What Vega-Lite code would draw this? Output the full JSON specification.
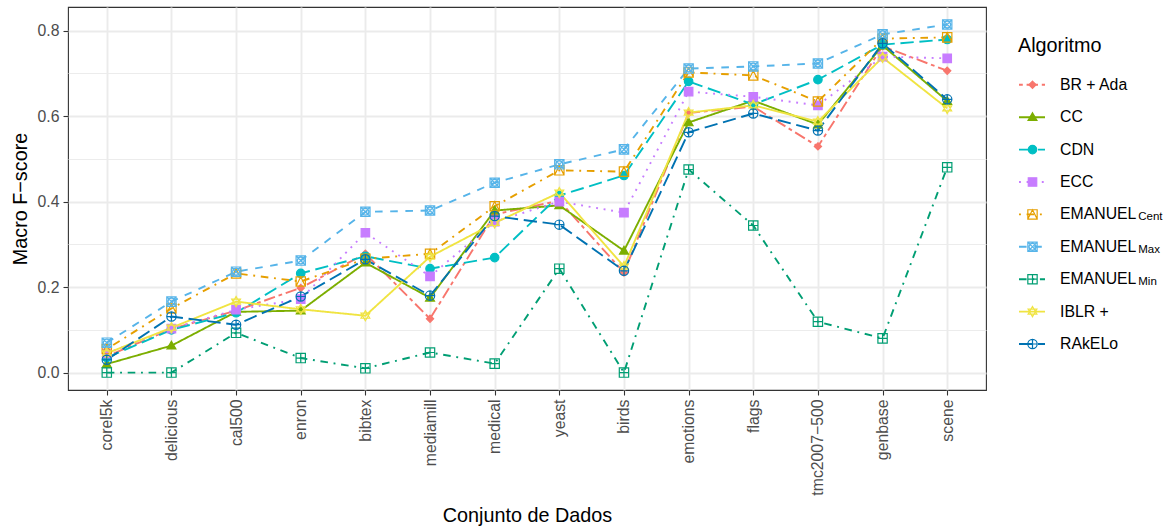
{
  "$schema": "https://vega.github.io/schema/vega-lite/v6.json",
  "width": 918,
  "height": 383,
  "autosize": {"type": "none"},
  "padding": {"left": 68, "top": 7, "right": 187, "bottom": 140},
  "background": "white",
  "config": {
    "font": "Liberation Sans",
    "view": {"stroke": "#333333", "strokeWidth": 1.1},
    "axis": {
      "domain": false,
      "grid": true,
      "gridColor": "#EBEBEB",
      "gridWidth": 1.9,
      "tickColor": "#333333",
      "tickWidth": 1.1,
      "tickSize": 5,
      "labelColor": "#4D4D4D",
      "labelFont": "Liberation Sans",
      "labelFontSize": 15.8,
      "labelPadding": 4,
      "titleColor": "#000000",
      "titleFont": "Liberation Sans",
      "titleFontSize": 19.8,
      "titleFontWeight": "normal"
    },
    "legend": {"padding": 0}
  },
  "data": {
    "values": [
      {"dataset": "corel5k", "alg": "BR + Ada", "f": 0.038},
      {"dataset": "delicious", "alg": "BR + Ada", "f": 0.102},
      {"dataset": "cal500", "alg": "BR + Ada", "f": 0.145},
      {"dataset": "enron", "alg": "BR + Ada", "f": 0.198},
      {"dataset": "bibtex", "alg": "BR + Ada", "f": 0.278},
      {"dataset": "mediamill", "alg": "BR + Ada", "f": 0.126},
      {"dataset": "medical", "alg": "BR + Ada", "f": 0.370},
      {"dataset": "yeast", "alg": "BR + Ada", "f": 0.402},
      {"dataset": "birds", "alg": "BR + Ada", "f": 0.234},
      {"dataset": "emotions", "alg": "BR + Ada", "f": 0.607},
      {"dataset": "flags", "alg": "BR + Ada", "f": 0.622},
      {"dataset": "tmc2007−500", "alg": "BR + Ada", "f": 0.529},
      {"dataset": "genbase", "alg": "BR + Ada", "f": 0.763},
      {"dataset": "scene", "alg": "BR + Ada", "f": 0.706},

      {"dataset": "corel5k", "alg": "CC", "f": 0.020},
      {"dataset": "delicious", "alg": "CC", "f": 0.063},
      {"dataset": "cal500", "alg": "CC", "f": 0.142},
      {"dataset": "enron", "alg": "CC", "f": 0.145},
      {"dataset": "bibtex", "alg": "CC", "f": 0.257},
      {"dataset": "mediamill", "alg": "CC", "f": 0.175},
      {"dataset": "medical", "alg": "CC", "f": 0.379},
      {"dataset": "yeast", "alg": "CC", "f": 0.391},
      {"dataset": "birds", "alg": "CC", "f": 0.285},
      {"dataset": "emotions", "alg": "CC", "f": 0.585},
      {"dataset": "flags", "alg": "CC", "f": 0.636},
      {"dataset": "tmc2007−500", "alg": "CC", "f": 0.580},
      {"dataset": "genbase", "alg": "CC", "f": 0.765},
      {"dataset": "scene", "alg": "CC", "f": 0.635},

      {"dataset": "corel5k", "alg": "CDN", "f": 0.035},
      {"dataset": "delicious", "alg": "CDN", "f": 0.100},
      {"dataset": "cal500", "alg": "CDN", "f": 0.140},
      {"dataset": "enron", "alg": "CDN", "f": 0.232},
      {"dataset": "bibtex", "alg": "CDN", "f": 0.272},
      {"dataset": "mediamill", "alg": "CDN", "f": 0.243},
      {"dataset": "medical", "alg": "CDN", "f": 0.269},
      {"dataset": "yeast", "alg": "CDN", "f": 0.414},
      {"dataset": "birds", "alg": "CDN", "f": 0.461},
      {"dataset": "emotions", "alg": "CDN", "f": 0.681},
      {"dataset": "flags", "alg": "CDN", "f": 0.627},
      {"dataset": "tmc2007−500", "alg": "CDN", "f": 0.685},
      {"dataset": "genbase", "alg": "CDN", "f": 0.767},
      {"dataset": "scene", "alg": "CDN", "f": 0.779},

      {"dataset": "corel5k", "alg": "ECC", "f": 0.045},
      {"dataset": "delicious", "alg": "ECC", "f": 0.103},
      {"dataset": "cal500", "alg": "ECC", "f": 0.147},
      {"dataset": "enron", "alg": "ECC", "f": 0.172},
      {"dataset": "bibtex", "alg": "ECC", "f": 0.327},
      {"dataset": "mediamill", "alg": "ECC", "f": 0.225},
      {"dataset": "medical", "alg": "ECC", "f": 0.353},
      {"dataset": "yeast", "alg": "ECC", "f": 0.400},
      {"dataset": "birds", "alg": "ECC", "f": 0.374},
      {"dataset": "emotions", "alg": "ECC", "f": 0.657},
      {"dataset": "flags", "alg": "ECC", "f": 0.645},
      {"dataset": "tmc2007−500", "alg": "ECC", "f": 0.625},
      {"dataset": "genbase", "alg": "ECC", "f": 0.739},
      {"dataset": "scene", "alg": "ECC", "f": 0.735},

      {"dataset": "corel5k", "alg": "EMANUEL_Cent", "f": 0.055},
      {"dataset": "delicious", "alg": "EMANUEL_Cent", "f": 0.150},
      {"dataset": "cal500", "alg": "EMANUEL_Cent", "f": 0.232},
      {"dataset": "enron", "alg": "EMANUEL_Cent", "f": 0.213},
      {"dataset": "bibtex", "alg": "EMANUEL_Cent", "f": 0.266},
      {"dataset": "mediamill", "alg": "EMANUEL_Cent", "f": 0.278},
      {"dataset": "medical", "alg": "EMANUEL_Cent", "f": 0.389},
      {"dataset": "yeast", "alg": "EMANUEL_Cent", "f": 0.473},
      {"dataset": "birds", "alg": "EMANUEL_Cent", "f": 0.470},
      {"dataset": "emotions", "alg": "EMANUEL_Cent", "f": 0.702},
      {"dataset": "flags", "alg": "EMANUEL_Cent", "f": 0.695},
      {"dataset": "tmc2007−500", "alg": "EMANUEL_Cent", "f": 0.634},
      {"dataset": "genbase", "alg": "EMANUEL_Cent", "f": 0.781},
      {"dataset": "scene", "alg": "EMANUEL_Cent", "f": 0.784},

      {"dataset": "corel5k", "alg": "EMANUEL_Max", "f": 0.070},
      {"dataset": "delicious", "alg": "EMANUEL_Max", "f": 0.166},
      {"dataset": "cal500", "alg": "EMANUEL_Max", "f": 0.236},
      {"dataset": "enron", "alg": "EMANUEL_Max", "f": 0.262},
      {"dataset": "bibtex", "alg": "EMANUEL_Max", "f": 0.376},
      {"dataset": "mediamill", "alg": "EMANUEL_Max", "f": 0.379},
      {"dataset": "medical", "alg": "EMANUEL_Max", "f": 0.444},
      {"dataset": "yeast", "alg": "EMANUEL_Max", "f": 0.487},
      {"dataset": "birds", "alg": "EMANUEL_Max", "f": 0.522},
      {"dataset": "emotions", "alg": "EMANUEL_Max", "f": 0.711},
      {"dataset": "flags", "alg": "EMANUEL_Max", "f": 0.716},
      {"dataset": "tmc2007−500", "alg": "EMANUEL_Max", "f": 0.723},
      {"dataset": "genbase", "alg": "EMANUEL_Max", "f": 0.791},
      {"dataset": "scene", "alg": "EMANUEL_Max", "f": 0.814},

      {"dataset": "corel5k", "alg": "EMANUEL_Min", "f": 0.000},
      {"dataset": "delicious", "alg": "EMANUEL_Min", "f": 0.000},
      {"dataset": "cal500", "alg": "EMANUEL_Min", "f": 0.093},
      {"dataset": "enron", "alg": "EMANUEL_Min", "f": 0.034},
      {"dataset": "bibtex", "alg": "EMANUEL_Min", "f": 0.010},
      {"dataset": "mediamill", "alg": "EMANUEL_Min", "f": 0.047},
      {"dataset": "medical", "alg": "EMANUEL_Min", "f": 0.021},
      {"dataset": "yeast", "alg": "EMANUEL_Min", "f": 0.243},
      {"dataset": "birds", "alg": "EMANUEL_Min", "f": 0.000},
      {"dataset": "emotions", "alg": "EMANUEL_Min", "f": 0.475},
      {"dataset": "flags", "alg": "EMANUEL_Min", "f": 0.344},
      {"dataset": "tmc2007−500", "alg": "EMANUEL_Min", "f": 0.119},
      {"dataset": "genbase", "alg": "EMANUEL_Min", "f": 0.080},
      {"dataset": "scene", "alg": "EMANUEL_Min", "f": 0.480},

      {"dataset": "corel5k", "alg": "IBLR +", "f": 0.045},
      {"dataset": "delicious", "alg": "IBLR +", "f": 0.105},
      {"dataset": "cal500", "alg": "IBLR +", "f": 0.166},
      {"dataset": "enron", "alg": "IBLR +", "f": 0.148},
      {"dataset": "bibtex", "alg": "IBLR +", "f": 0.133},
      {"dataset": "mediamill", "alg": "IBLR +", "f": 0.271},
      {"dataset": "medical", "alg": "IBLR +", "f": 0.350},
      {"dataset": "yeast", "alg": "IBLR +", "f": 0.421},
      {"dataset": "birds", "alg": "IBLR +", "f": 0.248},
      {"dataset": "emotions", "alg": "IBLR +", "f": 0.608},
      {"dataset": "flags", "alg": "IBLR +", "f": 0.625},
      {"dataset": "tmc2007−500", "alg": "IBLR +", "f": 0.587},
      {"dataset": "genbase", "alg": "IBLR +", "f": 0.737},
      {"dataset": "scene", "alg": "IBLR +", "f": 0.618},

      {"dataset": "corel5k", "alg": "RAkELo", "f": 0.030},
      {"dataset": "delicious", "alg": "RAkELo", "f": 0.131},
      {"dataset": "cal500", "alg": "RAkELo", "f": 0.112},
      {"dataset": "enron", "alg": "RAkELo", "f": 0.178},
      {"dataset": "bibtex", "alg": "RAkELo", "f": 0.265},
      {"dataset": "mediamill", "alg": "RAkELo", "f": 0.180},
      {"dataset": "medical", "alg": "RAkELo", "f": 0.366},
      {"dataset": "yeast", "alg": "RAkELo", "f": 0.346},
      {"dataset": "birds", "alg": "RAkELo", "f": 0.238},
      {"dataset": "emotions", "alg": "RAkELo", "f": 0.562},
      {"dataset": "flags", "alg": "RAkELo", "f": 0.606},
      {"dataset": "tmc2007−500", "alg": "RAkELo", "f": 0.566},
      {"dataset": "genbase", "alg": "RAkELo", "f": 0.770},
      {"dataset": "scene", "alg": "RAkELo", "f": 0.639}
    ]
  },
  "encoding": {
    "x": {
      "field": "dataset",
      "type": "nominal",
      "title": "Conjunto de Dados",
      "scale": {
        "type": "point",
        "padding": 0.6,
        "domain": ["corel5k", "delicious", "cal500", "enron", "bibtex", "mediamill", "medical", "yeast", "birds", "emotions", "flags", "tmc2007−500", "genbase", "scene"]
      },
      "axis": {"labelAngle": -90, "titlePadding": 10, "labelPadding": 4}
    },
    "y": {
      "field": "f",
      "type": "quantitative",
      "title": "Macro F−score",
      "scale": {"domain": [-0.0407, 0.855], "nice": false, "zero": false},
      "axis": {
        "values": [0, 0.1, 0.2, 0.3, 0.4, 0.5, 0.6, 0.7, 0.8],
        "labelExpr": "round(datum.value*10) % 2 == 1 ? '' : format(datum.value, '.1f')",
        "gridWidth": {"condition": {"test": "round(datum.value*10) % 2 == 1", "value": 0.95}, "value": 1.9},
        "tickOpacity": {"condition": {"test": "round(datum.value*10) % 2 == 1", "value": 0}, "value": 1},
        "titlePadding": 7
      }
    }
  },
  "layer": [
    {
      "mark": {"type": "line", "strokeWidth": 1.9},
      "encoding": {
        "color": {
          "field": "alg",
          "type": "nominal",
          "scale": {
            "domain": ["BR + Ada", "CC", "CDN", "ECC", "EMANUEL_Cent", "EMANUEL_Max", "EMANUEL_Min", "IBLR +", "RAkELo"],
            "range": ["#F8766D", "#7CAE00", "#00BFC4", "#C77CFF", "#E69F00", "#56B4E9", "#009E73", "#F0E442", "#0072B2"]
          },
          "legend": {
            "orient": "none", "legendX": 950, "legendY": 29, "direction": "vertical",
            "title": "Algoritmo", "titleFontSize": 19.8, "titleFontWeight": "normal", "titleColor": "#000000", "titleFont": "Liberation Sans", "titlePadding": 16,
            "labelFontSize": 15.8, "labelColor": "#000000", "labelFont": "Liberation Sans", "labelOffset": 14, "labelLimit": 300,
            "labelExpr": "indexof(datum.label, 'EMANUEL') == 0 ? 'EMANUEL' : datum.label",
            "symbolType": "stroke", "symbolSize": 676, "symbolStrokeWidth": 1.9,
            "clipHeight": 26, "rowPadding": 6.4
          }
        },
        "strokeDash": {
          "field": "alg",
          "type": "nominal",
          "scale": {
            "domain": ["BR + Ada", "CC", "CDN", "ECC", "EMANUEL_Cent", "EMANUEL_Max", "EMANUEL_Min", "IBLR +", "RAkELo"],
            "range": [[3.8, 3.8, 11.4, 3.8], [1, 0], [13.3, 5.7], [1.9, 5.7], [1.9, 5.7, 7.6, 5.7], [7.6, 7.6], [7.6, 5.7, 1.9, 5.7], [1, 0], [13.3, 5.7]]
          },
          "legend": {
            "orient": "none", "legendX": 950, "legendY": 29, "direction": "vertical",
            "title": "Algoritmo", "titleFontSize": 19.8, "titleFontWeight": "normal", "titleColor": "#000000", "titleFont": "Liberation Sans", "titlePadding": 16,
            "labelFontSize": 15.8, "labelColor": "#000000", "labelFont": "Liberation Sans", "labelOffset": 14, "labelLimit": 300,
            "labelExpr": "indexof(datum.label, 'EMANUEL') == 0 ? 'EMANUEL' : datum.label",
            "symbolType": "stroke", "symbolSize": 676, "symbolStrokeWidth": 1.9,
            "clipHeight": 26, "rowPadding": 6.4
          }
        }
      }
    },
    {
      "mark": {"type": "point", "filled": false, "size": 72, "strokeWidth": 1.2, "opacity": 1},
      "encoding": {
        "color": {
          "field": "alg",
          "type": "nominal",
          "scale": {
            "domain": ["BR + Ada", "CC", "CDN", "ECC", "EMANUEL_Cent", "EMANUEL_Max", "EMANUEL_Min", "IBLR +", "RAkELo"],
            "range": ["#F8766D", "#7CAE00", "#00BFC4", "#C77CFF", "#E69F00", "#56B4E9", "#009E73", "#F0E442", "#0072B2"]
          },
          "legend": {
            "orient": "none", "legendX": 958.75, "legendY": 64.8, "direction": "vertical", "title": null,
            "labelFontSize": 11.5, "labelColor": "#000000", "labelFont": "Liberation Sans", "labelOffset": 100, "labelLimit": 300,
            "labelExpr": "indexof(datum.label, 'EMANUEL_') == 0 ? substring(datum.label, 8) : ''",
            "symbolSize": 72, "symbolStrokeWidth": 1.2, "symbolOpacity": 1,
            "clipHeight": 26, "rowPadding": 6.4,
            "encode": {"labels": {"update": {"dy": {"value": 3}}}}
          }
        },
        "fill": {
          "field": "alg",
          "type": "nominal",
          "scale": {
            "domain": ["BR + Ada", "CC", "CDN", "ECC", "EMANUEL_Cent", "EMANUEL_Max", "EMANUEL_Min", "IBLR +", "RAkELo"],
            "range": ["#F8766D", "#7CAE00", "#00BFC4", "#C77CFF", "transparent", "transparent", "transparent", "transparent", "transparent"]
          },
          "legend": {
            "orient": "none", "legendX": 958.75, "legendY": 64.8, "direction": "vertical", "title": null,
            "labelFontSize": 11.5, "labelColor": "#000000", "labelFont": "Liberation Sans", "labelOffset": 100, "labelLimit": 300,
            "labelExpr": "indexof(datum.label, 'EMANUEL_') == 0 ? substring(datum.label, 8) : ''",
            "symbolSize": 72, "symbolStrokeWidth": 1.2, "symbolOpacity": 1,
            "clipHeight": 26, "rowPadding": 6.4,
            "encode": {"labels": {"update": {"dy": {"value": 3}}}}
          }
        },
        "shape": {
          "field": "alg",
          "type": "nominal",
          "scale": {
            "domain": ["BR + Ada", "CC", "CDN", "ECC", "EMANUEL_Cent", "EMANUEL_Max", "EMANUEL_Min", "IBLR +", "RAkELo"],
            "range": [
              "M0,-0.85L0.85,0L0,0.85L-0.85,0Z",
              "M0,-1.05L1.05,0.78L-1.05,0.78Z",
              "circle",
              "square",
              "M-1.1,-1.1H1.1V1.1H-1.1Z M-1.1,1.1L0,-1.1L1.1,1.1",
              "M-1.1,-1.1H1.1V1.1H-1.1Z M-1.1,-1.1L1.1,1.1 M-1.1,1.1L1.1,-1.1 M-0.8,0A0.8,0.8 0 1,1 0.8,0A0.8,0.8 0 1,1 -0.8,0Z",
              "M-1.1,-1.1H1.1V1.1H-1.1Z M-1.1,0H1.1 M0,-1.1V1.1",
              "M0,-1.2L1.04,0.6L-1.04,0.6Z M0,1.2L1.04,-0.6L-1.04,-0.6Z",
              "M-1.1,0A1.1,1.1 0 1,1 1.1,0A1.1,1.1 0 1,1 -1.1,0Z M-1.1,0H1.1 M0,-1.1V1.1"
            ]
          },
          "legend": {
            "orient": "none", "legendX": 958.75, "legendY": 64.8, "direction": "vertical", "title": null,
            "labelFontSize": 11.5, "labelColor": "#000000", "labelFont": "Liberation Sans", "labelOffset": 100, "labelLimit": 300,
            "labelExpr": "indexof(datum.label, 'EMANUEL_') == 0 ? substring(datum.label, 8) : ''",
            "symbolSize": 72, "symbolStrokeWidth": 1.2, "symbolOpacity": 1,
            "clipHeight": 26, "rowPadding": 6.4,
            "encode": {"labels": {"update": {"dy": {"value": 3}}}}
          }
        }
      }
    }
  ],
  "resolve": {"scale": {"color": "independent", "strokeDash": "independent", "shape": "independent", "fill": "independent"}}
}
